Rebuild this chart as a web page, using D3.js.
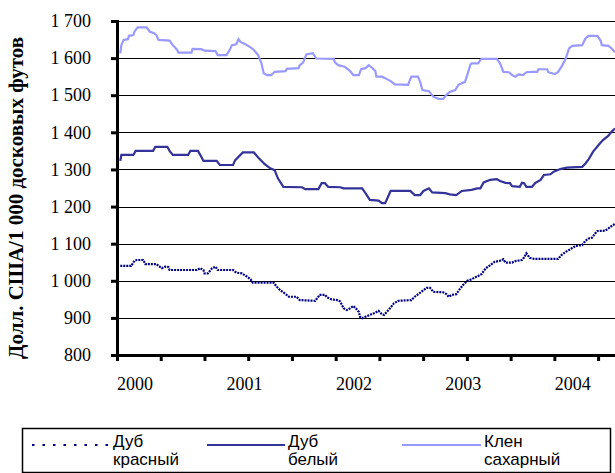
<!DOCTYPE html>
<html>
<head>
<meta charset="utf-8">
<script src="https://cdn.jsdelivr.net/npm/d3@7"></script>
<style>
  html, body { margin: 0; padding: 0; background: #fff; }
  svg { display: block; }
</style>
</head>
<body>
<svg id="chart" width="615" height="473"></svg>
<script>
// ---- Data (x in decimal years, y in USD per 1000 board feet) ----
const yearLabels = [2000, 2001, 2002, 2003, 2004];
const yTickValues = [800, 900, 1000, 1100, 1200, 1300, 1400, 1500, 1600, 1700];
const seriesNames = ["Дуб красный", "Дуб белый", "Клен сахарный"];

const redOakDates = [1999.87,1999.97,2000.00,2000.02,2000.08,2000.10,2000.20,2000.22,2000.25,2000.28,2000.31,2000.32,2000.57,2000.60,2000.63,2000.64,2000.67,2000.71,2000.74,2000.76,2000.90,2000.93,2000.98,2001.03,2001.06,2001.08,2001.27,2001.30,2001.33,2001.39,2001.41,2001.48,2001.51,2001.65,2001.68,2001.69,2001.74,2001.76,2001.80,2001.85,2001.88,2001.91,2001.94,2001.97,2002.00,2002.03,2002.05,2002.06,2002.08,2002.11,2002.15,2002.20,2002.23,2002.26,2002.28,2002.32,2002.37,2002.41,2002.53,2002.56,2002.62,2002.67,2002.70,2002.73,2002.82,2002.85,2002.87,2002.90,2002.94,2002.97,2003.00,2003.04,2003.08,2003.11,2003.14,2003.17,2003.21,2003.25,2003.29,2003.34,2003.37,2003.39,2003.45,2003.48,2003.54,2003.56,2003.58,2003.61,2003.65,2003.87,2003.90,2003.94,2003.98,2004.03,2004.09,2004.12,2004.15,2004.18,2004.21,2004.23,2004.30,2004.33,2004.37,2004.39];
const redOakValues = [1040,1040,1054,1056,1056,1045,1045,1040,1034,1038,1037,1029,1029,1034,1029,1020,1020,1034,1038,1029,1029,1022,1020,1011,1004,995,995,984,975,962,957,957,948,946,957,962,962,955,950,948,944,926,921,926,932,923,916,903,899,903,908,914,919,910,908,921,939,946,948,957,970,981,981,970,969,964,957,962,964,977,988,1000,1004,1009,1013,1018,1034,1042,1051,1054,1058,1049,1049,1053,1056,1063,1074,1062,1059,1059,1069,1078,1085,1094,1096,1108,1114,1116,1128,1134,1135,1141,1150,1153];

const whiteOakDates = [1999.87,1999.88,1999.99,2000.01,2000.17,2000.19,2000.30,2000.32,2000.35,2000.49,2000.51,2000.58,2000.61,2000.63,2000.75,2000.78,2000.90,2000.92,2000.99,2001.09,2001.13,2001.19,2001.24,2001.28,2001.31,2001.36,2001.53,2001.56,2001.68,2001.71,2001.74,2001.77,2001.88,2001.91,2002.08,2002.11,2002.15,2002.23,2002.26,2002.29,2002.34,2002.52,2002.56,2002.61,2002.64,2002.69,2002.72,2002.84,2002.88,2002.94,2002.99,2003.08,2003.13,2003.16,2003.19,2003.25,2003.31,2003.34,2003.39,2003.43,2003.45,2003.52,2003.54,2003.56,2003.58,2003.63,2003.66,2003.71,2003.74,2003.80,2003.83,2003.89,2003.95,2004.09,2004.12,2004.15,2004.19,2004.24,2004.28,2004.33,2004.36,2004.39];
const whiteOakValues = [1323,1339,1339,1350,1350,1361,1361,1350,1339,1339,1350,1350,1334,1323,1323,1312,1312,1325,1346,1346,1332,1314,1303,1298,1276,1253,1252,1247,1247,1263,1263,1253,1252,1249,1249,1236,1218,1216,1209,1209,1242,1242,1231,1231,1242,1249,1238,1236,1233,1231,1242,1245,1249,1249,1265,1272,1274,1269,1264,1263,1255,1253,1264,1263,1253,1253,1263,1272,1285,1287,1294,1301,1305,1307,1316,1328,1348,1366,1379,1391,1402,1410];

const mapleDates = [1999.87,1999.88,1999.90,1999.94,1999.95,1999.99,2000.00,2000.02,2000.03,2000.11,2000.14,2000.18,2000.20,2000.22,2000.32,2000.35,2000.39,2000.40,2000.52,2000.53,2000.61,2000.64,2000.74,2000.76,2000.84,2000.87,2000.89,2000.93,2000.95,2000.97,2001.01,2001.06,2001.09,2001.13,2001.16,2001.18,2001.21,2001.25,2001.28,2001.38,2001.39,2001.50,2001.51,2001.54,2001.57,2001.63,2001.66,2001.82,2001.83,2001.86,2001.92,2001.97,2002.00,2002.05,2002.07,2002.11,2002.14,2002.17,2002.20,2002.21,2002.26,2002.29,2002.34,2002.38,2002.50,2002.52,2002.53,2002.59,2002.61,2002.63,2002.69,2002.73,2002.78,2002.82,2002.85,2002.88,2002.93,2002.96,2002.99,2003.02,2003.04,2003.07,2003.08,2003.14,2003.16,2003.17,2003.31,2003.34,2003.37,2003.42,2003.45,2003.48,2003.51,2003.55,2003.58,2003.63,2003.68,2003.69,2003.77,2003.78,2003.84,2003.87,2003.91,2003.94,2003.97,2004.00,2004.09,2004.12,2004.15,2004.23,2004.26,2004.27,2004.33,2004.36,2004.39];
const mapleValues = [1613,1635,1649,1651,1660,1662,1671,1680,1683,1683,1671,1667,1662,1649,1647,1635,1622,1615,1615,1625,1624,1620,1619,1608,1608,1622,1635,1637,1651,1643,1638,1629,1622,1608,1586,1559,1554,1554,1563,1565,1571,1573,1581,1588,1610,1613,1599,1598,1589,1581,1577,1565,1554,1554,1570,1573,1581,1574,1565,1550,1550,1546,1538,1529,1528,1544,1550,1550,1536,1514,1511,1496,1490,1490,1501,1509,1514,1528,1532,1536,1554,1583,1586,1586,1595,1598,1598,1586,1563,1562,1554,1550,1556,1554,1562,1563,1563,1570,1570,1562,1557,1563,1581,1599,1626,1633,1635,1653,1660,1660,1646,1635,1633,1626,1616];

const colors = { red: "#000080", white: "#333399", maple: "#9999FF" };

// ---- Layout ----
const svg = d3.select("#chart");
const plot = { left: 117, right: 615, top: 21, bottom: 355 };
const xDomain = [1999.84, 2004.39];

const x = d3.scaleLinear().domain(xDomain).range([plot.left, plot.right]);
const y = d3.scaleLinear().domain([800, 1700]).range([plot.bottom, plot.top]);

const serif = "'Liberation Serif', 'Times New Roman', serif";

// gridlines
svg.append("g")
  .selectAll("line")
  .data(yTickValues.filter(v => v > 800))
  .join("line")
  .attr("x1", plot.left).attr("x2", plot.right)
  .attr("y1", d => Math.round(y(d)) + 0.5).attr("y2", d => Math.round(y(d)) + 0.5)
  .attr("stroke", "#000").attr("stroke-width", 1);

// series
function pts(dates, values) { return dates.map((d, i) => [d, values[i]]); }
const line = d3.line().x(d => x(d[0])).y(d => y(d[1]));

svg.append("path")
  .datum(pts(mapleDates, mapleValues))
  .attr("d", line).attr("fill", "none")
  .attr("stroke", colors.maple).attr("stroke-width", 2.2);

svg.append("path")
  .datum(pts(whiteOakDates, whiteOakValues))
  .attr("d", line).attr("fill", "none")
  .attr("stroke", colors.white).attr("stroke-width", 2.2);

svg.append("path")
  .datum(pts(redOakDates, redOakValues))
  .attr("d", line).attr("fill", "none")
  .attr("stroke", colors.red).attr("stroke-width", 2.2)
  .attr("stroke-dasharray", "2,1");

// y axis
const fmt = v => v >= 1000 ? Math.floor(v / 1000) + "\u00a0" + String(v % 1000).padStart(3, "0") : String(v);
const yAxis = svg.append("g")
  .attr("transform", `translate(${plot.left},0)`)
  .call(d3.axisLeft(y).tickValues(yTickValues).tickFormat(fmt).tickSize(6).tickPadding(20));
yAxis.select(".domain").attr("stroke", "#000").attr("stroke-width", 3);
yAxis.selectAll(".tick line").attr("stroke", "#000").attr("stroke-width", 3);
yAxis.selectAll(".tick text")
  .attr("font-family", serif).attr("font-size", 18).attr("fill", "#000");

// x axis: tick marks
const xTickVals = d3.range(0, 12).map(i => xDomain[0] + i * 0.3996);
const xAxis = svg.append("g")
  .attr("transform", `translate(0,${plot.bottom})`)
  .call(d3.axisBottom(x).tickValues(xTickVals).tickFormat("").tickSize(6).tickSizeOuter(0));
xAxis.select(".domain").attr("stroke", "#000").attr("stroke-width", 3);
xAxis.selectAll(".tick line").attr("stroke", "#000").attr("stroke-width", 3);

// x axis: year labels
const xLab = svg.append("g")
  .attr("transform", `translate(0,${plot.bottom})`)
  .call(d3.axisBottom(x).tickValues(yearLabels).tickFormat(d3.format("d")).tickSize(0).tickPadding(22));
xLab.select(".domain").remove();
xLab.selectAll(".tick text")
  .attr("font-family", serif).attr("font-size", 18).attr("fill", "#000");

// y axis title
svg.append("text")
  .attr("transform", "translate(16,198) rotate(-90)")
  .attr("text-anchor", "middle")
  .attr("dominant-baseline", "central")
  .attr("font-family", serif).attr("font-weight", "bold").attr("font-size", 21)
  .text("Долл. США/1 000 досковых футов");

// legend
const legend = svg.append("g");
legend.append("rect")
  .attr("x", 22.5).attr("y", 428.5).attr("width", 588).attr("height", 44)
  .attr("fill", "#fff").attr("stroke", "#000").attr("stroke-width", 1.5);

const legendItems = [
  { name: seriesNames[0], color: colors.red, dash: "2.5,8", x0: 32, x1: 110 },
  { name: seriesNames[1], color: colors.white, dash: null, x0: 207, x1: 285 },
  { name: seriesNames[2], color: colors.maple, dash: null, x0: 402, x1: 481 }
];
const sans = "'Liberation Sans Narrow', 'Liberation Sans', Arial, sans-serif";
legendItems.forEach(it => {
  const g = legend.append("g");
  g.append("line")
    .attr("x1", it.x0).attr("x2", it.x1).attr("y1", 445).attr("y2", 445)
    .attr("stroke", it.color).attr("stroke-width", 2)
    .attr("stroke-dasharray", it.dash);
  const parts = it.name.split(" ");
  const t = g.append("text")
    .attr("font-family", sans).attr("font-size", 17).attr("fill", "#000");
  t.append("tspan").attr("x", it.x1 + 3).attr("y", 447).text(parts[0]);
  t.append("tspan").attr("x", it.x1 + 3).attr("y", 465).text(parts[1]);
});
</script>
</body>
</html>
